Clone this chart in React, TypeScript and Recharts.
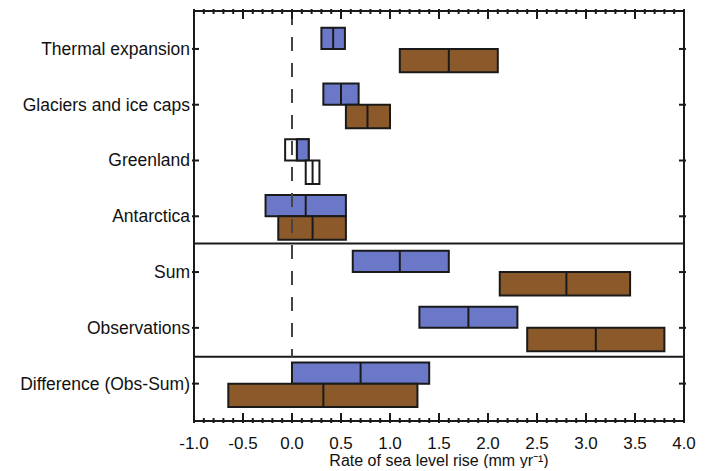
import React from "react";
import { ComposedChart, XAxis, YAxis, ReferenceArea, ReferenceLine, Scatter } from "recharts";

const categories = ["Thermal expansion", "Glaciers and ice caps", "Greenland", "Antarctica", "Sum", "Observations", "Difference (Obs-Sum)"];
const blueLow = [0.3, 0.32, -0.07, -0.27, 0.62, 1.3, 0.0];
const blueMid = [0.42, 0.5, 0.05, 0.14, 1.1, 1.8, 0.7];
const blueHigh = [0.54, 0.68, 0.17, 0.55, 1.6, 2.3, 1.4];
const brownLow = [1.1, 0.55, 0.14, -0.14, 2.12, 2.4, -0.65];
const brownMid = [1.6, 0.77, 0.21, 0.21, 2.8, 3.1, 0.32];
const brownHigh = [2.1, 1.0, 0.28, 0.55, 3.45, 3.8, 1.28];
const openBlue = [false, false, true, false, false, false, false];
const openBrown = [false, false, true, false, false, false, false];
const dividers = [3.49, 5.52];
const xTicks = Array.from({ length: 51 }, (_, k) => Math.round((-1 + k * 0.1) * 10) / 10);
const xLabels = [-1, -0.5, 0, 0.5, 1, 1.5, 2, 2.5, 3, 3.5, 4];
const yTicks = [0, 1, 2, 3, 4, 5, 6];

const BLUE = "#6b78c8";
const BROWN = "#8c5a2a";
const INK = "#1a1a1a";
const FONT = "Liberation Sans, Arial, sans-serif";

const isMajor = (v: number) => xLabels.some((l) => Math.abs(l - v) < 1e-6);

const BottomTick = (p: any) => {
  const v = p.payload.value;
  const major = isMajor(v);
  return (
    <g>
      <line x1={p.x} x2={p.x} y1={p.y} y2={p.y - (major ? 10 : 5)} stroke={INK} strokeWidth={2} />
      {major && (
        <text x={p.x} y={p.y + 26} textAnchor="middle" fontSize={17} fontFamily={FONT} fill="#111">
          {v.toFixed(1)}
        </text>
      )}
    </g>
  );
};
const TopTick = (p: any) => {
  const major = isMajor(p.payload.value);
  return <line x1={p.x} x2={p.x} y1={p.y} y2={p.y + (major ? 10 : 5)} stroke={INK} strokeWidth={2} />;
};
const LeftTick = (p: any) => (
  <g>
    <line x1={p.x} x2={p.x + 7} y1={p.y} y2={p.y} stroke={INK} strokeWidth={2} />
    <text x={p.x - 2} y={p.y + 6} textAnchor="end" fontSize={17.5} fontFamily={FONT} fill="#111">
      {categories[p.payload.value]}
    </text>
  </g>
);
const RightTick = (p: any) => <line x1={p.x} x2={p.x - 7} y1={p.y} y2={p.y} stroke={INK} strokeWidth={2} />;

const dummy = [{ x: -1, y: 0 }, { x: 4, y: 6 }];

export default function App() {
  const boxes: React.ReactNode[] = [];
  categories.forEach((_, i) => {
    const rows = [
      { lo: blueLow[i], mid: blueMid[i], hi: blueHigh[i], y1: i - 0.38, y2: i, c: BLUE, open: openBlue[i], k: "b" },
      { lo: brownLow[i], mid: brownMid[i], hi: brownHigh[i], y1: i, y2: i + 0.42, c: BROWN, open: openBrown[i], k: "r" },
    ];
    rows.forEach((r) => {
      boxes.push(
        <ReferenceArea key={`${r.k}${i}`} x1={r.lo} x2={r.hi} y1={r.y1} y2={r.y2} fill={r.open ? "#fff" : r.c} fillOpacity={1} stroke={INK} strokeWidth={2} ifOverflow="visible" />
      );
      if (r.open && r.k === "b") {
        boxes.push(
          <ReferenceArea key={`bf${i}`} x1={r.mid} x2={r.hi} y1={r.y1} y2={r.y2} fill={r.c} fillOpacity={1} stroke={INK} strokeWidth={2} ifOverflow="visible" />
        );
      }
      boxes.push(
        <ReferenceLine key={`${r.k}m${i}`} segment={[{ x: r.mid, y: r.y1 }, { x: r.mid, y: r.y2 }]} stroke={INK} strokeWidth={2} ifOverflow="visible" />
      );
    });
  });
  return (
    <ComposedChart width={700} height={460} margin={{ top: 2, right: 23, bottom: 0, left: 185 }}>
      <XAxis xAxisId="b" type="number" dataKey="x" domain={[-1, 4]} ticks={xTicks} interval={0} tick={<BottomTick />} tickLine={false} tickSize={0} axisLine={{ stroke: INK, strokeWidth: 2 }} height={47}
        label={{ value: "Rate of sea level rise (mm yr⁻¹)", position: "insideBottom", offset: 2, fontSize: 16, fontFamily: FONT, fill: "#111" }} />
      <XAxis xAxisId="t" orientation="top" type="number" dataKey="x" domain={[-1, 4]} ticks={xTicks} interval={0} tick={<TopTick />} tickLine={false} tickSize={0} axisLine={{ stroke: INK, strokeWidth: 2 }} height={1} />
      <YAxis yAxisId="l" type="number" dataKey="y" domain={[-0.68, 6.67]} reversed ticks={yTicks} interval={0} tick={<LeftTick />} tickLine={false} tickSize={0} width={1} axisLine={{ stroke: INK, strokeWidth: 2 }} />
      <YAxis yAxisId="r" orientation="right" type="number" dataKey="y" domain={[-0.68, 6.67]} reversed ticks={yTicks} interval={0} tick={<RightTick />} tickLine={false} tickSize={0} width={1} axisLine={{ stroke: INK, strokeWidth: 2 }} />
      <Scatter data={dummy} xAxisId="b" yAxisId="l" fill="none" isAnimationActive={false} shape={() => <g />} />
      <Scatter data={dummy} xAxisId="t" yAxisId="r" fill="none" isAnimationActive={false} shape={() => <g />} />
      {boxes.map((b: any) => React.cloneElement(b, { xAxisId: "b", yAxisId: "l" }))}
      {dividers.map((d) => (
        <ReferenceLine key={`d${d}`} xAxisId="b" yAxisId="l" y={d} stroke={INK} strokeWidth={2} />
      ))}
      <ReferenceLine xAxisId="b" yAxisId="l" segment={[{ x: 0, y: -0.68 }, { x: 0, y: dividers[1] }]} stroke="#444" strokeWidth={2} strokeDasharray="14 12" />
    </ComposedChart>
  );
}
